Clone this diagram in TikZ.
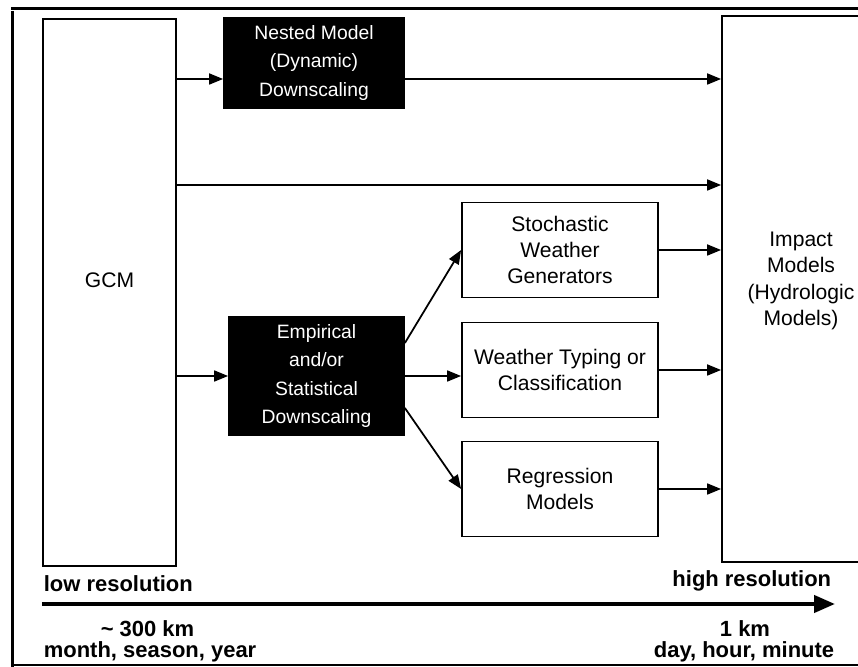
\documentclass[tikz,border=0pt]{standalone}
\usepackage{fontspec}
\setmainfont{Liberation Sans}
\usetikzlibrary{arrows.meta,positioning,calc}

\begin{document}
\begin{tikzpicture}[>={Triangle[length=0.28cm,width=0.22cm]},line width=1pt,font=\fontsize{12}{15}\selectfont,
  wbox/.style={draw,align=center,minimum width=3.92cm,minimum height=1.9cm,inner sep=0pt},
  bbox/.style={draw,fill=black,text=white,align=center,inner sep=0pt,font=\fontsize{11}{16}\selectfont},
  tall/.style={draw,align=center,inner sep=0pt},
  res/.style={font=\fontsize{12.5}{15}\selectfont\bfseries,inner sep=0pt}]
\useasboundingbox (0,0) rectangle (17.16,-13.34);
\draw[line width=2pt] (0.22,-0.17) -- (17.16,-0.17);
\draw[line width=1.2pt] (0.25,-0.22) -- (0.25,-13.34);
\draw[line width=0.6pt] (0.25,-13.30) -- (17.16,-13.30);
\node[tall,minimum width=2.66cm,minimum height=10.94cm] (gcm) at (2.19,-5.85) {};
\node (gcmtxt) at (2.19,-5.60) {GCM};
\node[tall,minimum width=3.16cm,minimum height=10.92cm] (impact) at (16.02,-5.78) {};
\node[align=center] (imptxt) at (16.02,-5.62) {Impact\\Models\\(Hydrologic\\Models)};
\node[bbox,minimum width=3.6cm,minimum height=1.8cm] (nest) at (6.28,-1.26) {Nested Model\\(Dynamic)\\Downscaling};
\node[bbox,minimum width=3.5cm,minimum height=2.36cm] (stat) at (6.33,-7.52) {Empirical\\and/or\\Statistical\\Downscaling};
\node[wbox] (sto) at (11.20,-5.00) {Stochastic\\Weather\\Generators};
\node[wbox] (wt) at (11.20,-7.40) {Weather Typing or\\Classification};
\node[wbox] (reg) at (11.20,-9.78) {Regression\\Models};
\coordinate (c1) at (0,-1.58);
\coordinate (c2) at (0,-3.70);
\draw[->] (gcm.east |- c1) -- (nest.west |- c1);
\draw[->] (nest.east |- c1) -- (impact.west |- c1);
\draw[->] (gcm.east |- c2) -- (impact.west |- c2);
\draw[->] (gcm.east |- stat) -- (stat.west);
\draw[->] ([yshift=0.66cm]stat.east) -- (sto.west);
\draw[->] (stat.east) -- (wt.west |- stat.east);
\draw[->] ([yshift=-0.64cm]stat.east) -- (reg.west);
\draw[->] (sto.east) -- (impact.west |- sto.east);
\draw[->] (wt.east) -- (impact.west |- wt.east);
\draw[->] (reg.east) -- (impact.west |- reg.east);
\coordinate (lo) at (0.84,-12.08);
\coordinate (hi) at (16.70,-12.08);
\draw[line width=2.4pt,-{Triangle[length=0.42cm,width=0.34cm]}] (lo) -- (hi);
\node[res,anchor=west] (lowres) at (0.86,-11.68) {low resolution};
\node[res,anchor=east] (highres) at (16.64,-11.62) {high resolution};
\node[res] (km300) at (2.95,-12.58) {\textasciitilde\ 300 km};
\node[res,anchor=west] (slow) at (0.86,-13.04) {month, season, year};
\node[res] (km1) at (14.90,-12.58) {1 km};
\node[res,anchor=east] (sfast) at (16.70,-13.04) {day, hour, minute};
\end{tikzpicture}
\end{document}
